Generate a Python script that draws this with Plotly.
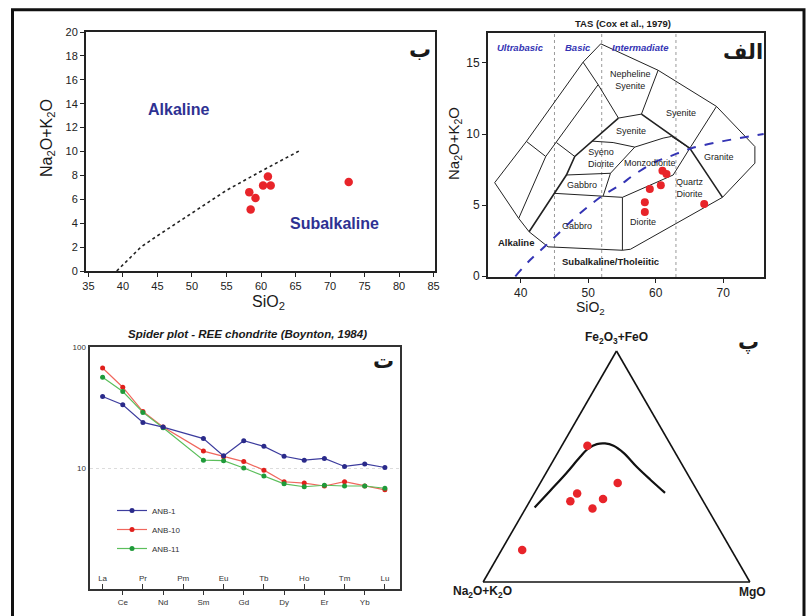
import plotly.graph_objects as go

W, H = 807, 616
FONT = "Liberation Sans, Arial, sans-serif"
AR_FONT = "DejaVu Sans, Noto Sans, sans-serif"
INK = "#1a1a1a"
RED = "#e8242a"
NAVY = "#2e3192"

# ---------------- Panel ب : SiO2 vs alkalis (Irvine & Baragar) ----------------
b_sio2 = [58.3, 58.5, 59.2, 60.3, 61.0, 61.4, 72.7]
b_alk = [6.6, 5.15, 6.1, 7.15, 7.9, 7.15, 7.45]
ib_line_sio2 = [39.1, 40.0, 42.6, 45.0, 50.0, 55.0, 60.0, 65.7]
ib_line_alk = [0.0, 0.5, 2.0, 2.95, 4.85, 6.75, 8.35, 10.1]
b_xticks = [35, 40, 45, 50, 55, 60, 65, 70, 75, 80, 85]
b_yticks = [0, 2, 4, 6, 8, 10, 12, 14, 16, 18, 20]

# ---------------- Panel الف : TAS (Cox et al., 1979) ----------------
tas_sio2 = [61.0, 61.6, 60.76, 59.13, 58.39, 58.39, 67.19]
tas_alk = [7.41, 7.19, 6.40, 6.14, 5.20, 4.51, 5.08]
tas_xticks = [40, 50, 60, 70]
tas_yticks = [0, 5, 10, 15]
tas_divider_sio2 = [39.2, 41.5, 43.8, 46.0, 48.0, 50.0, 52.2, 54.5, 57.0, 60.0, 62.2, 65.3, 70.0, 76.0]
tas_divider_alk = [0.0, 1.2, 2.2, 3.2, 4.1, 4.9, 5.7, 6.35, 7.2, 8.05, 8.45, 9.0, 9.5, 10.0]
tas_silica_bounds = [45, 52, 63]
tas_outer = [(36.14, 6.58), (40.84, 9.48), (49.24, 15.05), (51.86, 16.34), (60.36, 14.48),
             (69.01, 11.94), (74.70, 9.12), (74.70, 7.95), (69.90, 5.55), (56.26, 1.90),
             (55.07, 1.83), (44.05, 2.07), (41.24, 3.13), (39.70, 4.07), (36.14, 6.58)]
tas_thin_lines = [
    [(49.24, 15.05), (51.47, 13.47), (54.48, 11.12)],
    [(60.36, 14.48), (57.89, 11.40)],
    [(54.48, 11.12), (57.89, 11.40)],
    [(69.01, 11.94), (65.06, 9.00)],
    [(50.58, 9.50), (53.69, 9.40), (56.90, 9.08), (61.10, 9.71), (62.34, 9.83), (65.06, 9.00)],
    [(51.47, 13.47), (45.29, 9.40), (43.71, 8.42), (39.70, 4.07)],
    [(40.84, 9.48), (43.71, 8.42)],
    [(45.29, 9.40), (48.01, 8.42)],
    [(56.90, 9.08), (53.30, 7.24), (52.21, 5.64)],
    [(46.77, 7.12), (53.30, 7.24)],
    [(44.99, 5.83), (52.21, 5.64), (55.07, 5.55), (62.59, 7.12), (65.06, 9.00)],
    [(55.07, 5.55), (55.07, 1.83)],
]
tas_thick_lines = [
    [(57.89, 11.40), (65.06, 9.00), (69.90, 5.55)],
    [(54.48, 11.12), (50.58, 9.50), (48.01, 8.42), (46.77, 7.12), (44.99, 5.83), (41.24, 3.13)],
]
tas_field_labels = ["Nepheline<br>Syenite", "Syenite", "Syenite", "Syeno<br>Diorite", "Monzodiorite",
                    "Granite", "Gabbro", "Quartz<br>Diorite", "Gabbro", "Diorite"]
tas_field_x = [56.2, 63.7, 56.4, 51.9, 59.2, 69.4, 49.1, 65.1, 48.4, 58.1]
tas_field_y = [13.8, 11.5, 10.2, 8.3, 7.95, 8.4, 6.42, 6.2, 3.55, 3.83]
tas_series_labels = ["Ultrabasic", "Basic", "Intermadiate"]
tas_series_x = [40.0, 48.5, 57.8]

# ---------------- Panel ت : REE spider ----------------
elements = ["La", "Ce", "Pr", "Nd", "Pm", "Sm", "Eu", "Gd", "Tb", "Dy", "Ho", "Er", "Tm", "Yb", "Lu"]
anb1 = [39.0, 33.3, 23.8, 21.8, None, 17.5, 12.6, 16.8, 15.1, 12.5, 11.6, 12.0, 10.3, 10.8, 10.1]
anb10 = [67.1, 46.5, 29.3, 21.8, None, 13.8, 12.4, 11.3, 9.6, 7.7, 7.5, 7.1, 7.7, 7.1, 6.6]
anb11 = [56.3, 42.9, 28.8, 21.5, None, 11.6, 11.5, 10.0, 8.6, 7.4, 7.0, 7.2, 7.1, 7.1, 6.8]
spider_names = ["ANB-1", "ANB-10", "ANB-11"]
spider_line_colors = ["#3d3d9e", "#f0675d", "#5cbf5c"]
spider_marker_colors = ["#2a2a8a", "#e0201c", "#1f9a3a"]
spider_xaxes = ["x4", "x3", "x3"]

# ---------------- Panel پ : AFM ternary ----------------
afm_fe = [0.590, 0.429, 0.383, 0.350, 0.359, 0.318, 0.139]
afm_alk = [0.314, 0.281, 0.456, 0.498, 0.371, 0.431, 0.784]
afm_mg = [0.096, 0.290, 0.161, 0.152, 0.270, 0.251, 0.077]
afm_curve_fe = [0.322, 0.395, 0.473, 0.542, 0.578, 0.597, 0.600, 0.590, 0.559, 0.499, 0.444, 0.386]
afm_curve_alk = [0.646, 0.551, 0.450, 0.365, 0.316, 0.275, 0.243, 0.216, 0.194, 0.175, 0.152, 0.125]
afm_curve_mg = [0.032, 0.054, 0.077, 0.093, 0.106, 0.128, 0.157, 0.194, 0.247, 0.326, 0.404, 0.489]


def px(x):
    return x / W


def py(y):
    return 1 - y / H


def polyline_xy(lines):
    xs, ys = [], []
    for line in lines:
        for (x, y) in line:
            xs.append(x)
            ys.append(y)
        xs.append(None)
        ys.append(None)
    return xs, ys


fig = go.Figure()

# ب
fig.add_trace(go.Scatter(x=ib_line_sio2, y=ib_line_alk, mode="lines", xaxis="x", yaxis="y",
                         line=dict(color="#222", width=1.6, dash="dot"), showlegend=False, hoverinfo="skip"))
fig.add_trace(go.Scatter(x=b_sio2, y=b_alk, mode="markers", xaxis="x", yaxis="y",
                         marker=dict(color=RED, size=8.5), showlegend=False))

# الف
ox, oy = polyline_xy([tas_outer] + tas_thin_lines)
fig.add_trace(go.Scatter(x=ox, y=oy, mode="lines", xaxis="x2", yaxis="y2", connectgaps=False,
                         line=dict(color="#222", width=1.0), showlegend=False, hoverinfo="skip"))
tx, ty = polyline_xy(tas_thick_lines)
fig.add_trace(go.Scatter(x=tx, y=ty, mode="lines", xaxis="x2", yaxis="y2", connectgaps=False,
                         line=dict(color="#222", width=1.6), showlegend=False, hoverinfo="skip"))
fig.add_trace(go.Scatter(x=tas_divider_sio2, y=tas_divider_alk, mode="lines", xaxis="x2", yaxis="y2",
                         line=dict(color="#3434b4", width=2, dash="dash", shape="spline"),
                         showlegend=False, hoverinfo="skip"))
fig.add_trace(go.Scatter(x=tas_sio2, y=tas_alk, mode="markers", xaxis="x2", yaxis="y2",
                         marker=dict(color=RED, size=8), showlegend=False))

# ت
xi = list(range(len(elements)))
for name, vals, lc, mc, xa in zip(spider_names, [anb1, anb10, anb11], spider_line_colors,
                                  spider_marker_colors, spider_xaxes):
    fig.add_trace(go.Scatter(x=xi, y=vals, mode="lines+markers", name=name, xaxis=xa, yaxis="y3",
                             connectgaps=True, line=dict(color=lc, width=1.2),
                             marker=dict(color=mc, size=5)))

# پ
fig.add_trace(go.Scatterternary(a=afm_curve_fe, b=afm_curve_alk, c=afm_curve_mg, mode="lines",
                                line=dict(color="#111", width=2.2, shape="spline"),
                                showlegend=False, hoverinfo="skip"))
fig.add_trace(go.Scatterternary(a=afm_fe, b=afm_alk, c=afm_mg, mode="markers",
                                marker=dict(color=RED, size=8.5), showlegend=False))

box = dict(showline=True, mirror=True, linecolor="#222", linewidth=2, showgrid=False,
           zeroline=False, automargin=False, ticks="outside", ticklen=4, tickcolor="#222",
           tickfont=dict(family=FONT, size=11, color="#222"))

layout = dict(
    width=W, height=H, margin=dict(l=0, r=0, t=0, b=0),
    paper_bgcolor="white", plot_bgcolor="white",
    font=dict(family=FONT, color=INK),
    xaxis=dict(box, domain=[px(86), px(435)], range=[34.65, 85.2], tickvals=b_xticks, anchor="y"),
    yaxis=dict(box, domain=[py(271), py(32)], range=[0, 20], tickvals=b_yticks, anchor="x"),
    xaxis2=dict(box, domain=[px(488), px(764)], range=[35.15, 76.05], tickvals=tas_xticks, anchor="y2",
                tickfont=dict(family=FONT, size=12, color="#222")),
    yaxis2=dict(box, domain=[py(277), py(33)], range=[-0.05, 17.1], tickvals=tas_yticks, anchor="x2",
                tickfont=dict(family=FONT, size=12, color="#222")),
    xaxis3=dict(showline=True, mirror=True, linecolor="#333", linewidth=2, showgrid=False, zeroline=False,
                automargin=False, domain=[px(89.5), px(400)], range=[-0.65, 14.75], anchor="y3",
                tickvals=xi[0::2], ticktext=elements[0::2], ticks="inside", ticklen=5, tickcolor="#333",
                ticklabelposition="inside", tickfont=dict(family=FONT, size=8, color="#333")),
    xaxis4=dict(overlaying="x3", anchor="y3", range=[-0.65, 14.75], showline=False, showgrid=False,
                zeroline=False, automargin=False, tickvals=xi[1::2], ticktext=elements[1::2],
                ticks="outside", ticklen=5, tickcolor="#333",
                tickfont=dict(family=FONT, size=8, color="#333")),
    yaxis3=dict(type="log", showline=True, mirror=True, linecolor="#333", linewidth=2, zeroline=False,
                automargin=False, domain=[py(589), py(347)], range=[0, 2], anchor="x3",
                tickvals=[1, 10, 100], ticktext=["1", "10", "100"], ticks="",
                showgrid=True, gridcolor="#dcdcdc", griddash="dot", gridwidth=1,
                tickfont=dict(family=FONT, size=8, color="#333")),
    ternary=dict(
        domain=dict(x=[px(483), px(750)], y=[py(582), py(351)]), sum=1, bgcolor="white",
        aaxis=dict(showgrid=False, showticklabels=False, ticks="", linecolor="#111", linewidth=1.6,
                   title=dict(text="")),
        baxis=dict(showgrid=False, showticklabels=False, ticks="", linecolor="#111", linewidth=1.6,
                   title=dict(text="")),
        caxis=dict(showgrid=False, showticklabels=False, ticks="", linecolor="#111", linewidth=1.6,
                   title=dict(text="")),
    ),
    legend=dict(x=px(112), y=py(496), xanchor="left", yanchor="top", bgcolor="rgba(0,0,0,0)",
                font=dict(family=FONT, size=8, color="#333"), itemwidth=30, tracegroupgap=0),
    showlegend=True,
)
fig.update_layout(**layout)

shapes = []
for xv in tas_silica_bounds:
    shapes.append(dict(type="line", xref="x2", yref="y2 domain", x0=xv, x1=xv, y0=0, y1=1,
                       line=dict(color="#9a9a9a", width=1, dash="dot"), layer="below"))
shapes.append(dict(type="rect", xref="paper", yref="paper", x0=px(12.5), x1=px(804), y0=-0.05, y1=py(9.7),
                   line=dict(color="#111", width=3)))
fig.update_layout(shapes=shapes)

ann = []


def add_text(text, x, y, xref="paper", yref="paper", size=12, color=INK, family=FONT, angle=0,
             xanchor="center", yanchor="middle"):
    ann.append(dict(text=text, x=x, y=y, xref=xref, yref=yref, showarrow=False, textangle=angle,
                    font=dict(family=family, size=size, color=color), xanchor=xanchor, yanchor=yanchor))


# ب texts
add_text("Na<sub>2</sub>O+K<sub>2</sub>O", px(47), py(138), size=16, angle=-90)
add_text("SiO<sub>2</sub>", px(268), py(302), size=16)
add_text("<b>Alkaline</b>", 48.1, 13.5, "x", "y", size=16, color=NAVY)
add_text("<b>Subalkaline</b>", 70.7, 4.0, "x", "y", size=16, color=NAVY)
add_text("<b>ب</b>", px(420), py(49), size=22, family=AR_FONT)

# الف texts
add_text("<b>TAS (Cox et al., 1979)</b>", px(623), py(23), size=9.5)
add_text("Na<sub>2</sub>O+K<sub>2</sub>O", px(455), py(144), size=15, angle=-90)
add_text("SiO<sub>2</sub>", px(590), py(308), size=14)
add_text("<b>الف</b>", px(743), py(52), size=21, family=AR_FONT)
for lab, xv in zip(tas_series_labels, tas_series_x):
    add_text("<b><i>" + lab + "</i></b>", xv, 16.1, "x2", "y2", size=9.5, color="#3434b4")
for lab, xv, yv in zip(tas_field_labels, tas_field_x, tas_field_y):
    add_text(lab, xv, yv, "x2", "y2", size=9, color="#222")
add_text("<b>Alkaline</b>", 36.4, 2.35, "x2", "y2", size=9.5, xanchor="left")
add_text("<b>Subalkaline/Tholeiitic</b>", 53.35, 1.06, "x2", "y2", size=9.5)

# ت texts
add_text("<b><i>Spider plot - REE chondrite (Boynton, 1984)</i></b>", px(247), py(334), size=11.5)
add_text("<b>ت</b>", px(383), py(361), size=21, family=AR_FONT)

# پ texts
add_text("<b>Fe<sub>2</sub>O<sub>3</sub>+FeO</b>", px(616), py(338), size=12)
add_text("<b>Na<sub>2</sub>O+K<sub>2</sub>O</b>", px(482), py(592), size=12)
add_text("<b>MgO</b>", px(752), py(592), size=12)
add_text("<b>پ</b>", px(748), py(342), size=21, family=AR_FONT)

fig.update_layout(annotations=ann)

fig.write_html("out.html", config={"displayModeBar": False},
               post_script="document.body.style.margin='0';document.body.style.overflow='hidden';")
